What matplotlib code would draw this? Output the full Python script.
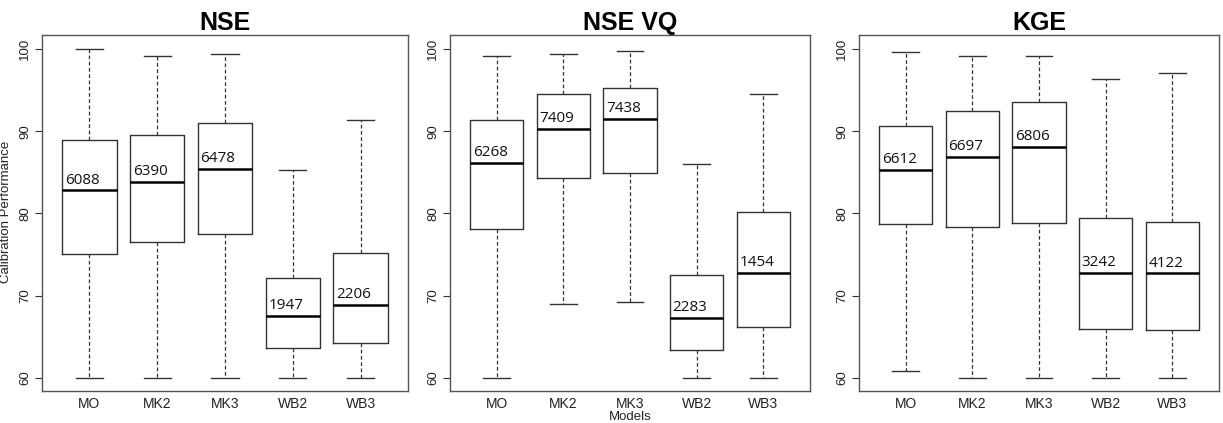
import matplotlib
matplotlib.use("Agg")
import matplotlib.pyplot as plt

models = ["MO", "MK2", "MK3", "WB2", "WB3"]
titles = ["NSE", "NSE VQ", "KGE"]

# whisker low, Q1, median, Q3, whisker high
nse_low = [60.0, 60.0, 60.0, 60.0, 60.0]
nse_q1 = [75.1, 76.5, 77.5, 63.6, 64.2]
nse_med = [82.8, 83.8, 85.4, 67.5, 68.9]
nse_q3 = [88.9, 89.5, 91.0, 72.2, 75.2]
nse_high = [100.0, 99.1, 99.4, 85.3, 91.4]
nse_n = ["6088", "6390", "6478", "1947", "2206"]

vq_low = [60.0, 69.0, 69.2, 60.0, 60.0]
vq_q1 = [78.1, 84.3, 84.9, 63.4, 66.2]
vq_med = [86.1, 90.3, 91.5, 67.3, 72.8]
vq_q3 = [91.4, 94.5, 95.3, 72.5, 80.2]
vq_high = [99.2, 99.4, 99.7, 86.0, 94.5]
vq_n = ["6268", "7409", "7438", "2283", "1454"]

kge_low = [60.8, 60.0, 60.0, 60.0, 60.0]
kge_q1 = [78.7, 78.4, 78.8, 66.0, 65.8]
kge_med = [85.3, 86.9, 88.1, 72.8, 72.7]
kge_q3 = [90.6, 92.4, 93.5, 79.4, 79.0]
kge_high = [99.6, 99.2, 99.2, 96.4, 97.1]
kge_n = ["6612", "6697", "6806", "3242", "4122"]

panels = [
    (nse_low, nse_q1, nse_med, nse_q3, nse_high, nse_n),
    (vq_low, vq_q1, vq_med, vq_q3, vq_high, vq_n),
    (kge_low, kge_q1, kge_med, kge_q3, kge_high, kge_n),
]

fig = plt.figure(figsize=(12.23, 4.23), dpi=100)
lefts = [42, 450, 859]
widths = [366, 360, 360]
frame_col = "#555555"

for k, (low, q1, med, q3, high, counts) in enumerate(panels):
    ax = fig.add_axes([lefts[k] / 1223, 32 / 423, widths[k] / 1223, 356 / 423])
    stats = []
    for i in range(len(models)):
        stats.append({"whislo": low[i], "q1": q1[i], "med": med[i],
                      "q3": q3[i], "whishi": high[i], "fliers": []})
    pos = list(range(1, len(models) + 1))
    ax.bxp(stats, positions=pos, widths=0.8, showfliers=False,
           boxprops=dict(color="#333333", linewidth=1.0),
           whiskerprops=dict(color="#333333", linewidth=0.9, linestyle=(0, (3, 2))),
           capprops=dict(color="#333333", linewidth=1.0),
           medianprops=dict(color="black", linewidth=1.8),
           capwidths=0.4)
    for i in range(len(models)):
        ax.annotate(counts[i], (pos[i] - 0.36, med[i]), xytext=(0, 2),
                    textcoords="offset points", ha="left", va="bottom",
                    fontsize=11, family="Open Sans", color="#111111")
    ax.set_xlim(0.3, 5.7)
    ax.set_ylim(58.4, 101.7)
    ax.set_yticks([60, 70, 80, 90, 100])
    ax.set_xticks(pos)
    ax.set_xticklabels(models, fontsize=10, family="Liberation Sans", color="#222222")
    for lab in ax.get_yticklabels():
        lab.set_rotation(90)
        lab.set_va("center")
        lab.set_fontsize(9.5)
        lab.set_family("Liberation Sans")
        lab.set_color("#222222")
    ax.tick_params(axis="y", color="#333333", length=5, pad=3)
    ax.tick_params(axis="x", length=0, pad=4)
    for sp in ax.spines.values():
        sp.set_color(frame_col)
        sp.set_linewidth(1.0)
    ax.set_title(titles[k], fontsize=18, fontweight="bold", family="Liberation Sans", pad=3)
    if k == 1:
        ax.set_xlabel("Models", fontsize=9.5, family="Liberation Sans", labelpad=0, color="#222222")

# the y label sits right on the left edge, partly cut off as in the original
fig.text(0.0045, 0.5, "Calibration Performance", rotation=90, ha="center", va="center",
         fontsize=9.5, family="Liberation Sans", color="#222222")

fig.savefig("out.png", dpi=100)
